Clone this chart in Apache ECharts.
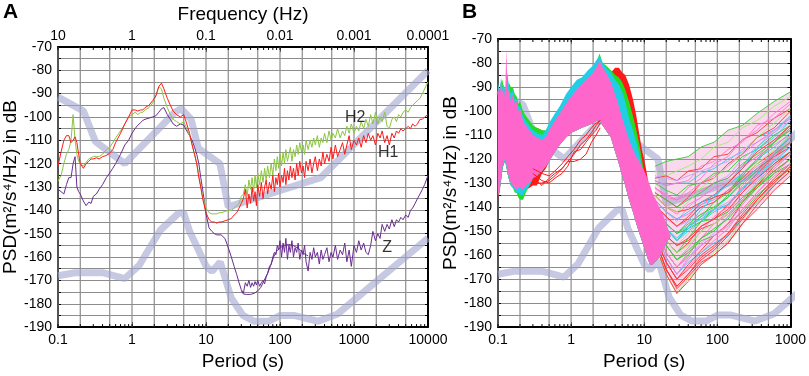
<!DOCTYPE html>
<html>
<head>
<meta charset="utf-8">
<script src="https://cdn.jsdelivr.net/npm/echarts@6/dist/echarts.min.js"></script>
<style>
  html, body { margin: 0; padding: 0; background: #fff; }
  #chart { width: 809px; height: 376px; }
</style>
</head>
<body>
<div id="chart"></div>
<script>
// ---------- axis labels ----------
const periodLabels = ["0.1", "1", "10", "100", "1000", "10000"];
const freqLabels = ["10", "1", "0.1", "0.01", "0.001", "0.0001"];

// ---------- Peterson noise models (period s, dB) ----------
const nlnmP = [0.1, 0.17, 0.4, 0.8, 1.24, 2.4, 4.3, 5, 6, 10, 12, 15.6, 21.9, 31.6, 45, 70, 101, 154, 328, 600, 10000];
const nlnmDb = [-168, -166.7, -166.7, -169.2, -163.7, -148.6, -141.1, -141.1, -149, -163.8, -166.2, -162.1, -177.5, -185, -187.5, -187.5, -185, -185, -187.5, -184.4, -151.9];
const nhnmP = [0.1, 0.22, 0.32, 0.8, 3.8, 4.6, 6.3, 7.9, 15.4, 20, 354.8, 10000];
const nhnmDb = [-91.5, -97.4, -110.5, -120, -98, -96.5, -101, -113.5, -120, -138.5, -126, -80.1];

// ---------- panel A: one station, three components ----------
const periodA = [
  0.1, 0.11, 0.12, 0.13, 0.14, 0.15, 0.16, 0.17, 0.18, 0.19,
  0.2, 0.22, 0.24, 0.26, 0.28, 0.3, 0.33, 0.36, 0.4, 0.45,
  0.5, 0.55, 0.6, 0.7, 0.8, 0.9, 1, 1.1, 1.2, 1.3,
  1.4, 1.5, 1.7, 1.9, 2.1, 2.3, 2.5, 2.7, 3, 3.3,
  3.6, 4, 4.5, 5, 5.5, 6, 6.5, 7, 7.5, 8,
  8.5, 9, 10, 11, 12, 13, 14, 15, 16, 17,
  18, 19, 20, 22, 24, 26, 28, 30, 32, 34,
  36, 38, 40, 42, 44, 46, 48, 50, 53, 56,
  59, 62, 65, 68, 72, 76, 80, 84, 88, 92,
  96, 100, 105, 110, 115, 120, 126, 132, 138, 145,
  152, 160, 168, 176, 185, 195, 205, 215, 225, 240,
  255, 270, 285, 300, 320, 340, 360, 380, 400, 430,
  460, 490, 520, 560, 600, 650, 700, 750, 800, 860,
  920, 1000, 1080, 1160, 1250, 1350, 1450, 1560, 1680, 1800,
  1950, 2100, 2250, 2400, 2600, 2800, 3000, 3250, 3500, 3750,
  4000, 4300, 4600, 5000, 5400, 5800, 6200, 6700, 7200, 7800,
  8400, 9000, 10000
];
const h1 = [
  -121, -115, -110, -108, -108, -111, -110, -108.5, -111, -116,
  -120, -122, -120, -119, -118, -118, -117.5, -118, -117, -116.5,
  -115.5, -114, -111, -107, -103, -100, -97, -97, -97.5, -97,
  -97, -96, -95, -93, -91, -87, -85.5, -88, -92, -95,
  -97.5, -99, -100, -99, -103, -107, -112, -116, -120, -126,
  -130, -135, -141, -144, -145, -145, -145.5, -145, -145, -144.5,
  -144.5, -144, -144, -143.5, -142, -141, -139, -137, -135, -131,
  -139, -133, -137, -130, -136, -132, -138, -129, -134, -128,
  -135, -130, -127, -133, -128, -131, -125, -132, -126, -129,
  -124, -130, -125, -128, -122, -129, -123, -127, -121, -126,
  -122, -127, -120, -125, -119, -124, -121, -126, -119, -123,
  -118, -124, -120, -117, -123, -118, -121, -115, -120, -116,
  -119, -113, -118, -112, -117, -114, -111, -116, -112, -108,
  -114, -110, -112, -109, -113, -108, -111, -107, -110, -108,
  -112, -107, -109, -106, -111, -108, -112, -107, -109, -106,
  -107, -105, -106, -105, -104, -105, -103, -104, -103, -101,
  -101, -100, -99
];
const h2 = [
  -127.5, -125, -120, -116, -114, -110, -99, -110, -116, -119,
  -120, -121, -119.5, -118, -117.5, -117, -117, -117, -116, -114,
  -113, -111, -109, -106, -103, -100, -99, -98, -99, -98,
  -98, -97, -96, -94, -91, -87, -88, -92, -96, -99,
  -101, -102, -103, -102, -105, -108, -112, -116, -120, -125,
  -130, -134, -139, -141, -141.5, -141.5, -141.5, -141, -141, -141,
  -140.5, -140.5, -140, -140, -139, -138, -137, -134, -133, -129,
  -134, -127, -131, -126, -132, -125, -130, -124, -129, -123,
  -128, -122, -127, -121, -126, -120, -125, -118, -123, -117,
  -122, -116, -121, -115, -120, -114, -119, -116, -113, -119,
  -114, -117, -112, -116, -111, -115, -112, -116, -110, -114,
  -110, -113, -109, -112, -108, -113, -109, -111, -107, -111,
  -106, -110, -107, -109, -105, -109, -106, -108, -104, -107,
  -103, -107, -104, -106, -102, -105, -101, -104, -99, -103,
  -98, -103, -100, -102, -98, -104, -105, -101, -100, -102,
  -99, -100, -98, -97, -98, -96, -95, -94, -93, -92,
  -90, -88, -85
];
const zComp = [
  -131, -132, -133, -129, -126, -126, -120, -117, -130, -132,
  -133, -136, -138, -136.5, -137, -134, -133, -131, -129, -126,
  -124, -122, -120, -116, -112, -110, -107, -105, -103.5, -102.5,
  -101.5, -101, -100.5, -100, -99.5, -98, -96.5, -96, -99, -101,
  -103, -104, -103, -103.5, -106, -108, -110, -113, -116, -120,
  -126, -131, -141.5, -147.5, -149, -150, -150.5, -150.5, -150.5, -151,
  -152, -154, -156, -160, -164, -167.5, -171, -174, -175.5, -171,
  -172.5, -170, -173, -171, -172.5, -170.5, -172, -170, -172.5, -171,
  -170, -171.5, -168.5, -167, -164, -163, -160, -158, -159, -155,
  -157, -153, -160, -154, -158, -152, -161, -155, -158, -153,
  -160, -156, -158, -154, -161, -157, -159, -155, -162, -166,
  -158, -161, -156, -160, -158, -163, -157, -161, -159, -156,
  -162, -158, -160, -155, -161, -157, -159, -154, -162, -157,
  -164, -155, -158, -153, -157, -154, -158, -159, -155, -149,
  -153, -150, -152, -146, -149, -146, -148, -144, -147, -144,
  -145, -143, -144, -142, -143, -140, -139, -137, -135, -133,
  -131, -129, -125
];
// smoothed Z curve drawn over the noisy trace
const zSmoothP = [30, 32, 35, 40, 45, 50, 55, 60, 68, 75, 82, 90, 100, 115, 131, 150, 170, 189, 210, 240];
const zSmoothDb = [-174.4, -175.8, -176, -176, -175.5, -174.5, -173, -170.5, -167, -163.5, -160, -157.5, -156, -155, -154.6, -155, -156, -157, -158.5, -159.5];

const compNames = ["H2", "H1", "Z"];
const compLabelP = [1040, 2900, 2800];
const compLabelDb = [-100.3, -115.4, -155.8];

// ---------- panel B: many stations, band envelopes ----------
const bandP = [
  0.1, 0.105, 0.11, 0.115, 0.12, 0.125, 0.13, 0.135, 0.14, 0.15,
  0.16, 0.17, 0.18, 0.19, 0.2, 0.22, 0.24, 0.27, 0.3, 0.34,
  0.4, 0.45, 0.5, 0.6, 0.7, 0.85, 1, 1.2, 1.4, 1.7,
  2, 2.2, 2.45, 2.7, 3, 3.5, 4, 4.5, 5, 5.5,
  6.2, 7, 7.8, 8.6, 9.3, 10, 11, 12, 13, 14,
  16, 18, 20, 23
];
const pinkTop = [
  -90, -94, -88, -92, -90, -95, -74, -93, -91, -96,
  -93, -97, -96, -100, -99, -104, -106, -108, -110, -111,
  -112, -111, -108, -104, -101, -97, -94, -91, -89, -86,
  -84, -82, -79, -82, -84, -88, -93, -98, -103, -107,
  -112, -116, -119, -121, -123, -125, -128, -131, -134, -136,
  -140, -143, -147, -152
];
const pinkBot = [
  -135, -133, -128, -123, -121, -120, -122, -125, -127, -130,
  -131, -132, -133, -132, -132, -133, -131, -130, -128, -127,
  -125, -123, -121, -117, -114, -111, -109, -108, -107, -106,
  -105, -104, -104, -106, -108, -111, -117, -122, -127, -131,
  -137, -142, -147, -151, -154, -157, -161, -164, -164, -163,
  -161, -158, -155, -152
];
const cyanTop = [
  -88, -93, -86, -90, -89, -92, -88, -84, -89, -93,
  -91, -95, -95, -98, -98, -102, -104, -106, -108, -109,
  -110, -108, -105, -101, -98, -93, -90, -87, -86, -83,
  -81, -79, -77, -80, -82, -84, -87, -89, -92, -96,
  -103, -108, -113, -118, -123, -128, -133, -138, -142, -145,
  -148, -150, -151, -152
];
const cyanBot = [
  -135, -133, -129, -124, -122, -121, -123, -126, -128, -131,
  -132, -133, -134, -134, -135, -135, -133, -131, -128, -127,
  -125, -123, -121, -117, -114, -111, -109, -108, -107, -106,
  -105, -104, -104, -106, -108, -111, -117, -122, -127, -131,
  -137, -142, -147, -151, -154, -157, -161, -164, -164, -163,
  -161, -158, -155, -152
];
const greenTop = [
  -89, -91, -88, -87, -91, -90, -93, -92, -88, -90,
  -90, -93, -94, -97, -96, -100, -102, -104, -106, -107,
  -108, -108, -106, -103, -100, -96, -93, -90, -88, -85,
  -83, -80, -76, -80, -81, -83, -85, -86, -88, -91,
  -96, -102, -108, -114, -120, -126, -132, -138, -142, -145,
  -148, -150, -151, -152
];
const greenBot = [
  -135, -133, -129, -124, -122, -121, -123, -126, -128, -131,
  -132, -134, -134, -136, -137, -137, -134, -131, -128, -127,
  -125, -123, -121, -117, -114, -111, -109, -108, -107, -106,
  -105, -104, -104, -106, -108, -111, -117, -122, -127, -131,
  -137, -142, -147, -151, -154, -157, -161, -164, -164, -163,
  -161, -158, -155, -152
];
const redTop = [
  -92, -95, -90, -92, -93, -94, -92, -95, -90, -93,
  -92, -94, -96, -98, -99, -101, -103, -105, -107, -107,
  -108, -109, -108, -105, -102, -98, -95, -92, -90, -87,
  -85, -83, -80, -82, -83, -84, -82, -82, -84, -85,
  -89, -95, -102, -110, -116, -120, -127, -134, -140, -144,
  -148, -150, -151, -152
];
const redBot = [
  -136, -134, -129, -124, -122, -121, -123, -126, -128, -131,
  -132, -133, -134, -134, -135, -135, -133, -132, -131, -131,
  -126, -124, -121, -117, -114, -111, -109, -108, -107, -106,
  -105, -104, -104, -106, -108, -111, -117, -122, -127, -131,
  -137, -142, -147, -151, -154, -157, -161, -164, -164, -163,
  -161, -158, -155, -152
];

// red traces under the band on the rising side
const redLowP = [0.3, 0.4, 0.5, 0.6, 0.75, 0.9, 1.1, 1.35, 1.6, 1.9, 2.2, 2.5];
const redLow1 = [-124, -126, -127, -125, -122, -119, -116, -112, -110, -107, -105, -104];
const redLow2 = [-128, -131, -128, -126, -124, -121, -118, -114, -112, -109, -106, -104];
const redLow3 = [-126, -129, -130, -128, -126, -123, -117, -116, -113, -110, -108, -105];
const redLow4 = [-130, -130, -129, -127, -124, -121, -121, -120, -118, -113, -110, -107];

// long-period fan of individual traces
const fanP = [14, 20, 28, 40, 60, 90, 140, 220, 350, 600, 1000];
const fanTop = [-123, -121, -120, -119, -115, -113, -108, -106, -101, -96, -92];
const fanBot = [-155, -168, -176, -170, -164, -159, -155, -147, -141, -133, -127];
const fanLines = [
  [-123, -121, -120, -119, -115, -113, -108, -106, -101, -96, -92],
  [-125, -127, -125, -123, -120, -115, -113, -107, -104, -98, -94],
  [-128, -127, -129, -125, -124, -119, -118, -112, -109, -103, -99],
  [-132, -136, -137, -132, -128, -122, -119, -112, -108, -101, -96],
  [-129, -131, -130, -130, -126, -124, -120, -117, -111, -108, -102],
  [-134, -137, -140, -136, -130, -128, -122, -118, -111, -107, -100],
  [-130, -133, -135, -131, -130, -126, -125, -119, -116, -110, -106],
  [-137, -142, -146, -140, -136, -130, -127, -120, -115, -108, -103],
  [-135, -140, -143, -139, -136, -132, -130, -123, -119, -112, -108],
  [-140, -147, -151, -146, -139, -136, -130, -124, -116, -111, -104],
  [-139, -144, -148, -145, -140, -138, -133, -128, -122, -117, -111],
  [-142, -149, -154, -148, -144, -138, -134, -126, -121, -113, -108],
  [-137, -142, -145, -143, -139, -137, -133, -129, -123, -118, -113],
  [-143, -152, -156, -151, -146, -140, -136, -129, -122, -116, -110],
  [-145, -154, -159, -155, -148, -145, -139, -133, -126, -119, -113],
  [-140, -147, -151, -148, -145, -141, -139, -132, -128, -121, -117],
  [-147, -156, -162, -157, -150, -144, -140, -131, -125, -118, -111],
  [-148, -159, -165, -160, -153, -150, -144, -137, -130, -122, -117],
  [-143, -152, -156, -154, -149, -147, -143, -137, -131, -125, -120],
  [-150, -161, -168, -161, -155, -151, -144, -136, -129, -121, -115],
  [-152, -163, -170, -165, -159, -154, -149, -141, -134, -126, -120],
  [-147, -156, -162, -159, -154, -152, -147, -142, -135, -129, -123],
  [-153, -166, -173, -168, -161, -157, -151, -143, -136, -128, -122],
  [-150, -161, -168, -163, -159, -155, -152, -144, -138, -131, -125],
  [-155, -168, -176, -170, -164, -159, -154, -145, -138, -130, -124],
  [-153, -166, -174, -169, -163, -160, -155, -147, -141, -133, -127],
  [-142, -149, -153, -148, -141, -136, -130, -123, -115, -109, -102],
  [-135, -140, -142, -141, -138, -136, -134, -129, -124, -119, -115],
  [-145, -154, -159, -153, -146, -141, -135, -127, -120, -113, -106],
  [-132, -135, -137, -135, -133, -130, -128, -123, -119, -114, -110],
  [-152, -163, -170, -164, -158, -152, -147, -138, -131, -123, -117],
  [-138, -145, -148, -146, -143, -141, -138, -133, -129, -123, -118],
  [-129, -131, -130, -129, -123, -121, -116, -113, -106, -103, -97],
  [-134, -137, -140, -137, -134, -130, -128, -122, -118, -113, -107],
  [-139, -144, -148, -144, -138, -135, -130, -124, -117, -112, -106],
  [-142, -149, -154, -150, -146, -142, -139, -132, -126, -121, -115],
  [-148, -159, -165, -159, -153, -147, -142, -134, -127, -119, -113],
  [-145, -154, -159, -156, -150, -147, -143, -137, -130, -124, -118],
  [-152, -163, -170, -166, -160, -156, -151, -144, -137, -129, -124],
  [-140, -147, -151, -149, -146, -145, -142, -136, -132, -126, -122],
  [-127, -128, -129, -127, -125, -123, -121, -116, -113, -109, -104],
  [-150, -161, -168, -162, -156, -152, -147, -139, -132, -124, -118],
  [-137, -142, -145, -142, -138, -135, -131, -126, -120, -115, -109],
  [-143, -152, -156, -153, -148, -145, -141, -134, -128, -122, -117],
  [-147, -156, -162, -158, -153, -149, -145, -138, -132, -125, -120],
  [-132, -135, -137, -134, -130, -127, -123, -118, -113, -108, -103],
  [-153, -166, -173, -168, -162, -158, -152, -145, -137, -130, -123],
  [-142, -149, -154, -149, -144, -141, -136, -129, -124, -117, -111],
  [-135, -140, -142, -138, -132, -128, -123, -117, -111, -105, -99],
  [-148, -159, -165, -161, -156, -152, -148, -141, -134, -127, -122],
  [-140, -147, -151, -147, -143, -140, -136, -130, -125, -118, -113],
  [-155, -168, -176, -171, -164, -160, -155, -147, -139, -131, -125]
];
const fanColors = ["#33cc33", "#99ee77", "#ff3333", "#ff77cc", "#33ccee", "#ff3333",
  "#33cc33", "#c9a0ff", "#ff77cc", "#33ccee", "#ff3333", "#33cc33",
  "#ff77cc", "#99ee77", "#ff3333", "#33ccee", "#ff77cc", "#33cc33",
  "#ff3333", "#c9a0ff", "#ff77cc", "#33cc33", "#ff3333", "#33ccee",
  "#99ee77", "#ff3333", "#33ccee", "#ff3333", "#33cc33", "#ff77cc",
  "#ff3333", "#c9a0ff",
  "#ff77cc", "#33cc33", "#ff3333", "#33ccee", "#ff77cc", "#99ee77",
  "#ff3333", "#33cc33", "#c9a0ff", "#ff77cc", "#33ccee", "#ff3333",
  "#33cc33", "#ff77cc", "#ff3333", "#33ccee", "#99ee77", "#ff77cc",
  "#33cc33", "#ff3333"];

// ---------- styling ----------
const FONT = "Liberation Sans, Arial, sans-serif";
const GRID_COLOR = "#8c8c8c";
const MODEL_COLOR = "rgba(160,165,205,0.6)";
const tickMult = [1, 2, 3, 4, 5, 6, 7, 8, 9];
const gridMult = [1, 2, 5];

const pairs = (ps, vs) => ps.map((p, i) => [p, vs[i]]);
const decadeIndex = (v) => Math.round(Math.log10(v)) + 1;

function lineSeries(axis, ps, vs, color, width, z) {
  return {
    type: "line", xAxisIndex: axis, yAxisIndex: axis, data: pairs(ps, vs),
    symbol: "none", silent: true, z: z,
    lineStyle: { color: color, width: width }
  };
}

// vertical grid at 1-2-5 and small minor ticks top/bottom
function gridSeries(axis, decades, yMin, yMax) {
  const items = [];
  decades.forEach((d) => tickMult.forEach((m) => items.push([d * m, yMin, gridMult.includes(m) ? 1 : 0])));
  return {
    type: "custom", xAxisIndex: axis, yAxisIndex: axis, z: 1, silent: true,
    data: items, encode: { x: 0, y: 1 },
    renderItem: (params, api) => {
      const p = api.value(0);
      const top = api.coord([p, yMax]);
      const bot = api.coord([p, yMin]);
      const children = [];
      if (api.value(2) === 1) {
        children.push({ type: "line", shape: { x1: top[0], y1: top[1], x2: bot[0], y2: bot[1] },
          style: { stroke: GRID_COLOR, lineWidth: 1.2 } });
      }
      children.push({ type: "line", shape: { x1: top[0], y1: top[1], x2: top[0], y2: top[1] + 3 },
        style: { stroke: "#000", lineWidth: 1 } });
      children.push({ type: "line", shape: { x1: bot[0], y1: bot[1], x2: bot[0], y2: bot[1] - 3 },
        style: { stroke: "#000", lineWidth: 1 } });
      return { type: "group", children: children };
    }
  };
}

// filled envelope between two curves
function polySeries(ps, top, bot, color, z) {
  return {
    type: "custom", xAxisIndex: 2, yAxisIndex: 2, z: z, silent: true,
    data: [[ps[0], top[0]]], encode: { x: 0, y: 1 },
    renderItem: (params, api) => {
      const pts = ps.map((p, i) => api.coord([p, top[i]]));
      for (let i = ps.length - 1; i >= 0; i--) pts.push(api.coord([ps[i], bot[i]]));
      return { type: "polygon", shape: { points: pts }, style: { fill: color } };
    }
  };
}

function xAxes(grid, max, withLabels) {
  const common = {
    gridIndex: grid, type: "log", logBase: 10, min: 0.1, max: max,
    axisLine: { show: true, lineStyle: { color: "#000", width: 2 } },
    axisTick: { inside: true, length: 5, lineStyle: { color: "#000" } },
    splitLine: { show: false }
  };
  return [
    Object.assign({}, common, {
      position: "bottom", name: "Period (s)", nameLocation: "middle", nameGap: 19,
      nameTextStyle: { fontSize: 19, color: "#000", fontFamily: FONT },
      axisLabel: { fontSize: 14, color: "#000", fontFamily: FONT, margin: 6,
        formatter: (v) => periodLabels[decadeIndex(v)] }
    }),
    Object.assign({}, common, withLabels ? {
      position: "top", name: "Frequency (Hz)", nameLocation: "middle", nameGap: 20,
      nameTextStyle: { fontSize: 19, color: "#000", fontFamily: FONT },
      axisLabel: { fontSize: 14, color: "#000", fontFamily: FONT, margin: 4,
        formatter: (v) => freqLabels[decadeIndex(v)] }
    } : { position: "top", axisLabel: { show: false } })
  ];
}

function yAxes(grid, nameGap) {
  const common = {
    gridIndex: grid, type: "value", min: -190, max: -70, interval: 5,
    axisLine: { show: true, lineStyle: { color: "#000", width: 2 } },
    axisTick: { show: true, inside: true, length: 3, lineStyle: { color: "#000" } }
  };
  return [
    Object.assign({}, common, {
      position: "left", name: "PSD(m²/s⁴/Hz) in dB", nameLocation: "middle", nameGap: nameGap,
      nameRotate: 90, nameTextStyle: { fontSize: 19, color: "#000", fontFamily: FONT },
      axisLabel: { fontSize: 14, color: "#000", fontFamily: FONT, margin: 6,
        formatter: (v) => (v % 10 === 0 ? String(v) : "") },
      splitLine: { show: true, lineStyle: { color: GRID_COLOR, width: 1.2 } }
    }),
    Object.assign({}, common, { position: "right", axisLabel: { show: false }, splitLine: { show: false } })
  ];
}

const series = [
  gridSeries(0, [0.1, 1, 10, 100, 1000], -190, -70),
  gridSeries(2, [0.1, 1, 10, 100], -190, -70),
  // noise models
  lineSeries(0, nlnmP, nlnmDb, MODEL_COLOR, 7, 2),
  lineSeries(0, nhnmP, nhnmDb, MODEL_COLOR, 7, 2),
  lineSeries(2, nlnmP, nlnmDb, MODEL_COLOR, 7, 2),
  lineSeries(2, nhnmP, nhnmDb, MODEL_COLOR, 7, 2),
  // panel A components
  lineSeries(0, zSmoothP, zSmoothDb, "#6a2c91", 1, 3),
  lineSeries(0, periodA, zComp, "#6a2c91", 1, 3),
  lineSeries(0, periodA, h2, "#8cc63f", 1, 3),
  lineSeries(0, periodA, h1, "#ff1a1a", 1, 4),
  {
    type: "scatter", xAxisIndex: 0, yAxisIndex: 0, z: 5, silent: true,
    symbolSize: 1, itemStyle: { color: "rgba(0,0,0,0)" },
    data: compNames.map((n, i) => ({ name: n, value: [compLabelP[i], compLabelDb[i]] })),
    label: { show: true, position: "inside", formatter: "{b}", fontSize: 16, color: "#000", fontFamily: FONT }
  },
  // panel B fan
  polySeries(fanP, fanTop, fanBot, "rgba(235,130,190,0.3)", 2)
];
fanLines.forEach((vals, i) => series.push(lineSeries(2, fanP, vals, fanColors[i], 0.9, 3)));
series.push(
  polySeries(bandP, redTop, redBot, "#ff1a1a", 4),
  polySeries(bandP, greenTop, greenBot, "#22dd22", 4),
  polySeries(bandP, cyanTop, cyanBot, "#22cde6", 4),
  polySeries(bandP, pinkTop, pinkBot, "#ff66cc", 4),
  lineSeries(2, redLowP, redLow1, "#ff1a1a", 1, 5),
  lineSeries(2, redLowP, redLow2, "#ff1a1a", 1, 5),
  lineSeries(2, redLowP, redLow3, "#ff1a1a", 1, 5),
  lineSeries(2, redLowP, redLow4, "#ff1a1a", 1, 5)
);

const chart = echarts.init(document.getElementById("chart"), null, { renderer: "canvas" });
chart.setOption({
  animation: false,
  backgroundColor: "#fff",
  textStyle: { fontFamily: FONT },
  grid: [
    { left: 58, top: 41, width: 370, height: 294 },
    { left: 498, top: 39, width: 295, height: 295 }
  ],
  xAxis: [...xAxes(0, 10000, true), ...xAxes(1, 1000, false)],
  yAxis: [...yAxes(0, 37), ...yAxes(1, 36)],
  graphic: [
    { type: "text", left: 3, top: 2, style: { text: "A", fontSize: 21, fontWeight: "bold", fontFamily: FONT, fill: "#000" } },
    { type: "text", left: 462, top: 2, style: { text: "B", fontSize: 21, fontWeight: "bold", fontFamily: FONT, fill: "#000" } }
  ],
  series: series
});
</script>
</body>
</html>
